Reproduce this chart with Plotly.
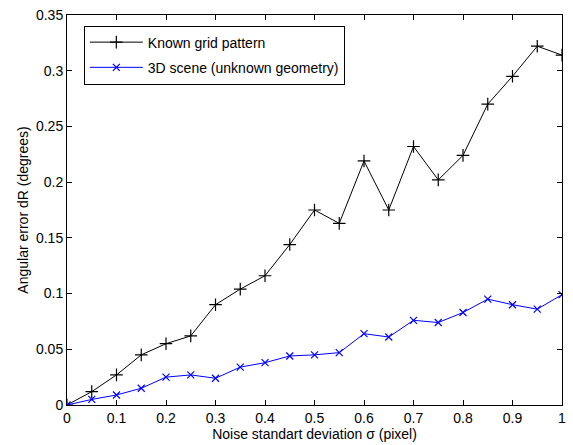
import plotly.graph_objects as go

sigma = [0, 0.05, 0.1, 0.15, 0.2, 0.25, 0.3, 0.35, 0.4, 0.45, 0.5, 0.55, 0.6, 0.65, 0.7, 0.75, 0.8, 0.85, 0.9, 0.95, 1.0]
known_grid = [0, 0.012, 0.027, 0.045, 0.055, 0.062, 0.090, 0.104, 0.116, 0.144, 0.175, 0.163, 0.219, 0.175, 0.232, 0.202, 0.224, 0.270, 0.295, 0.322, 0.314]
scene_3d = [0, 0.005, 0.009, 0.015, 0.025, 0.027, 0.024, 0.034, 0.038, 0.044, 0.045, 0.047, 0.064, 0.061, 0.076, 0.074, 0.083, 0.095, 0.090, 0.086, 0.099]

x_ticks = [0, 0.1, 0.2, 0.3, 0.4, 0.5, 0.6, 0.7, 0.8, 0.9, 1]
x_labels = ["0", "0.1", "0.2", "0.3", "0.4", "0.5", "0.6", "0.7", "0.8", "0.9", "1"]
y_ticks = [0, 0.05, 0.1, 0.15, 0.2, 0.25, 0.3, 0.35]
y_labels = ["0", "0.05", "0.1", "0.15", "0.2", "0.25", "0.3", "0.35"]

fig = go.Figure()
fig.add_trace(go.Scatter(
    x=sigma, y=known_grid, mode="lines+markers", name="Known grid pattern",
    legendgroup="a",
    line=dict(color="black", width=1),
    marker=dict(symbol="cross-thin", size=9, line=dict(color="black", width=1.2)),
))
fig.add_trace(go.Scatter(
    x=sigma, y=scene_3d, mode="lines+markers", name="3D scene (unknown geometry)",
    legendgroup="b",
    line=dict(color="blue", width=1),
    marker=dict(symbol="x-thin", size=7, line=dict(color="blue", width=1.2)),
))

axis_common = dict(
    showgrid=False, zeroline=False, showline=True, linecolor="black", linewidth=1,
    mirror="ticks", ticks="inside", ticklen=5, tickcolor="black",
    tickfont=dict(size=14, color="black"),
)

fig.update_layout(
    width=573, height=445,
    margin=dict(l=67, r=7, t=13, b=40),
    paper_bgcolor="white", plot_bgcolor="white",
    font=dict(family="Liberation Sans, Arial, sans-serif", size=14, color="black"),
    xaxis=dict(range=[0, 1], tickvals=x_ticks, ticktext=x_labels,
               title=dict(text="Noise standart deviation σ (pixel)", font=dict(size=14), standoff=1),
               **axis_common),
    yaxis=dict(range=[0, 0.35], tickvals=y_ticks, ticktext=y_labels,
               title=dict(text="Angular error dR (degrees)", font=dict(size=14), standoff=4),
               **axis_common),
    legend=dict(x=0.034, y=0.973, xanchor="left", yanchor="top",
                bordercolor="black", borderwidth=1, bgcolor="white",
                font=dict(size=14), traceorder="grouped", tracegroupgap=4,
                itemwidth=53),
    showlegend=True,
)

fig.write_html("out.html")
